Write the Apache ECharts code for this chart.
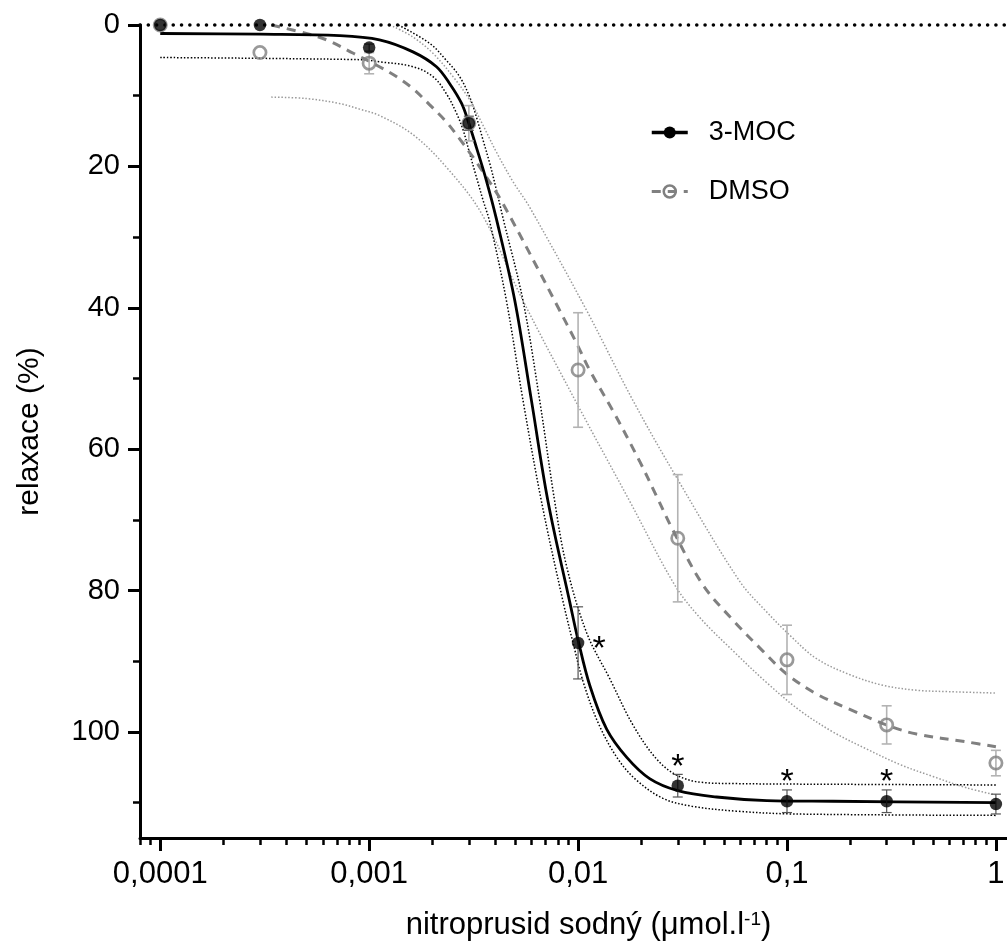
<!DOCTYPE html>
<html>
<head>
<meta charset="utf-8">
<script src="https://cdn.jsdelivr.net/npm/echarts@6/dist/echarts.min.js"></script>
<style>html,body{margin:0;padding:0;background:#fff}#c{width:1007px;height:945px}</style>
</head>
<body>
<div id="c"></div>
<script>
// ---- data ----
const CONC = [0.0001, 0.0003, 0.001, 0.003, 0.01, 0.03, 0.1, 0.3, 1];
const MOC_MEAN = [0, 0, 3.2, 13.9, 87.4, 107.6, 109.8, 109.8, 110.2];
const MOC_SEM = [0, 0, 0.5, 1.0, 5.1, 1.6, 1.6, 1.6, 1.4];
const DMSO_MEAN = [0, 3.9, 5.4, 13.9, 48.8, 72.6, 89.8, 99.0, 104.4];
const DMSO_SEM = [0, 0, 1.5, 2.5, 8.1, 9.0, 4.9, 2.7, 1.8];
const SIGNIFICANT = [0.01, 0.03, 0.1, 0.3];

const MOC_FIT = [[0.0001,1.2],[0.0003,1.3],[0.00072,1.5],[0.00112,2.1],[0.00162,3.8],[0.0021,5.9],[0.00243,8.3],[0.00277,11.1],[0.003,13.9],[0.00326,17.3],[0.00364,22.0],[0.00407,27.5],[0.00498,39.0],[0.00598,53.1],[0.00718,67.4],[0.00912,81.6],[0.01,87.0],[0.0114,93.5],[0.0137,99.6],[0.0171,103.6],[0.022,106.6],[0.03,108.3],[0.046,109.2],[0.08,109.7],[0.166,109.8],[1,110.0]];
const MOC_CI_HIGH = [[0.0001,4.6],[0.0009,4.9],[0.00112,5.2],[0.00162,5.9],[0.00202,7.3],[0.00234,9.7],[0.00262,12.5],[0.00282,14.9],[0.00303,18.2],[0.00326,21.5],[0.00351,24.8],[0.00378,27.9],[0.00454,39.0],[0.00545,53.1],[0.00668,67.4],[0.00848,81.6],[0.0095,87.6],[0.0106,93.0],[0.0126,99.0],[0.0155,103.8],[0.019,106.8],[0.0255,109.4],[0.035,110.5],[0.057,111.2],[0.108,111.6],[1,111.8]];
const MOC_CI_LOW = [[0.00138,0],[0.00195,2.6],[0.00234,5.0],[0.00271,7.3],[0.00303,10.2],[0.00326,13.0],[0.00351,16.3],[0.00378,19.6],[0.00407,23.4],[0.00438,27.4],[0.00545,39.0],[0.00655,53.1],[0.00773,67.4],[0.0088,76.5],[0.011,86.0],[0.0142,92.5],[0.0183,99.0],[0.0237,103.8],[0.0296,106.1],[0.0383,107.1],[0.0555,107.3],[0.166,107.4],[1,107.5]];

const DMSO_FIT = [[0.00034,0],[0.0005,1.2],[0.000625,2.1],[0.00084,4.0],[0.00112,5.9],[0.00135,7.3],[0.00162,9.0],[0.00195,11.3],[0.00234,13.7],[0.00271,16.1],[0.00314,18.7],[0.00364,21.5],[0.0043,24.9],[0.00656,35.0],[0.00788,39.5],[0.00983,45.0],[0.0114,48.9],[0.0147,54.6],[0.0197,61.7],[0.0237,66.6],[0.0285,71.5],[0.0396,79.2],[0.0552,84.2],[0.0769,88.6],[0.0995,91.8],[0.138,94.6],[0.2,96.8],[0.299,99.0],[0.417,100.3],[0.723,101.4],[1,102.1]];
const DMSO_CI_HIGH = [[0.00034,10.2],[0.0005,10.4],[0.00072,11.1],[0.0009,11.9],[0.00112,12.8],[0.00162,15.5],[0.00234,20.1],[0.00344,26.6],[0.00545,39.0],[0.0101,54.1],[0.0177,67.4],[0.029,79.2],[0.0382,83.8],[0.0555,88.6],[0.0798,93.0],[0.1145,96.9],[0.166,100.0],[0.24,102.4],[0.347,104.6],[0.5,106.3],[0.723,107.9],[1,108.9]];
const DMSO_CI_LOW = [[0.0013,0.2],[0.00162,1.7],[0.00202,4.0],[0.00252,7.3],[0.00303,10.6],[0.00351,14.2],[0.00407,18.0],[0.00489,22.2],[0.00587,25.8],[0.011,40.4],[0.0183,53.1],[0.0296,64.0],[0.0594,78.7],[0.0798,83.0],[0.103,86.3],[0.138,89.6],[0.2,91.9],[0.288,93.4],[0.417,94.1],[0.6,94.3],[1,94.5]];

const X_TICKS = [0.0001, 0.001, 0.01, 0.1, 1];
const X_TICK_LABELS = ['0,0001', '0,001', '0,01', '0,1', '1'];
const X_MINOR_TICKS = [0.00008,0.00009,0.0002,0.0003,0.0004,0.0005,0.0006,0.0007,0.0008,0.0009,0.002,0.003,0.004,0.005,0.006,0.007,0.008,0.009,0.02,0.03,0.04,0.05,0.06,0.07,0.08,0.09,0.2,0.3,0.4,0.5,0.6,0.7,0.8,0.9];
const Y_TICKS = [0, 20, 40, 60, 80, 100];
const Y_MINOR_TICKS = [10, 30, 50, 70, 90, 110];

// ---- chart ----
const FONT = 'Liberation Sans, Arial, Helvetica, sans-serif';
const chart = echarts.init(document.getElementById('c'), null, {renderer: 'canvas'});

function xLabel(v) {
  let best = 0, d = Infinity;
  X_TICKS.forEach((t, i) => { const dd = Math.abs(Math.log10(t) - Math.log10(v)); if (dd < d) { d = dd; best = i; } });
  return X_TICK_LABELS[best];
}

function errorBars(means, sems, color, width, capW, z) {
  return {
    type: 'custom', silent: true, z: z, clip: false,
    data: CONC.map((c, i) => [c, means[i], sems[i]]),
    encode: {x: 0, y: 1},
    renderItem: function (params, api) {
      const x = api.value(0), m = api.value(1), e = api.value(2);
      if (!e) return {type: 'group', children: []};
      const a = api.coord([x, m - e]), b = api.coord([x, m + e]);
      const h = capW / 2;
      const st = {stroke: color, lineWidth: width};
      return {type: 'group', children: [
        {type: 'line', shape: {x1: a[0], y1: a[1], x2: b[0], y2: b[1]}, style: st},
        {type: 'line', shape: {x1: a[0] - h, y1: a[1], x2: a[0] + h, y2: a[1]}, style: st},
        {type: 'line', shape: {x1: b[0] - h, y1: b[1], x2: b[0] + h, y2: b[1]}, style: st}
      ]};
    }
  };
}

function band(data, color) {
  return {type: 'line', data: data, smooth: 0.35, showSymbol: false, symbol: 'none', silent: true, z: 2,
    lineStyle: {color: color, width: 1.5, type: [1.5, 1.9]}};
}

const GRID = {left: 140, right: 0, top: 25, bottom: 107, containLabel: false, outerBoundsMode: 'none'};

const option = {
  animation: false,
  backgroundColor: '#fff',
  grid: [Object.assign({}, GRID), Object.assign({}, GRID)],
  legend: {
    data: [
      {name: '3-MOC', itemStyle: {color: '#000'}, lineStyle: {width: 3.5, color: '#000'}},
      {name: 'DMSO', itemStyle: {color: 'rgba(255,255,255,0)', borderColor: '#808080', borderWidth: 2.5}, lineStyle: {width: 3, color: '#808080'}}
    ],
    orient: 'vertical', left: 645, top: 114, itemWidth: 36, itemHeight: 15, itemGap: 32,
    selectedMode: false,
    textStyle: {fontSize: 27, color: '#000', fontFamily: FONT, padding: [0, 0, 0, 16]}
  },
  xAxis: [
    {
      gridIndex: 0, type: 'log', logBase: 10, min: 0.00008, max: 1.13, position: 'bottom',
      name: '{t|nitroprusid sodný (μmol.l}{s|-1}{t|)}',
      nameLocation: 'middle', nameGap: 72,
      nameTextStyle: {padding: [0, 0, 0, 30], rich: {
        t: {fontSize: 31, fontFamily: FONT, color: '#000'},
        s: {fontSize: 19, fontFamily: FONT, color: '#000', verticalAlign: 'top'}
      }},
      axisLine: {show: true, onZero: false, lineStyle: {color: '#000', width: 3}},
      axisTick: {show: true, length: 13, lineStyle: {color: '#000', width: 3}, customValues: X_TICKS},
      axisLabel: {show: true, customValues: X_TICKS, formatter: xLabel, fontSize: 31, fontFamily: FONT, color: '#000', margin: 21},
      splitLine: {show: false}, minorTick: {show: false}
    },
    {
      gridIndex: 1, type: 'log', logBase: 10, min: 0.00008, max: 1.13, position: 'bottom',
      axisLine: {show: false, onZero: false},
      axisTick: {show: true, length: 7, lineStyle: {color: '#000', width: 2.5}, customValues: X_MINOR_TICKS},
      axisLabel: {show: false}, splitLine: {show: false}
    }
  ],
  yAxis: [
    {
      gridIndex: 0, type: 'value', min: 0, max: 115, inverse: true, position: 'left',
      name: 'relaxace (%)', nameLocation: 'middle', nameGap: 95,
      nameTextStyle: {fontSize: 30, fontFamily: FONT, color: '#000'},
      axisLine: {show: true, onZero: false, lineStyle: {color: '#000', width: 3}},
      axisTick: {show: true, length: 12, lineStyle: {color: '#000', width: 3}, customValues: Y_TICKS},
      axisLabel: {show: true, customValues: Y_TICKS, fontSize: 29, fontFamily: FONT, color: '#000', margin: 20},
      splitLine: {show: false}
    },
    {
      gridIndex: 0, type: 'value', min: 0, max: 115, inverse: true, position: 'left',
      axisLine: {show: false, onZero: false},
      axisTick: {show: true, length: 7, lineStyle: {color: '#000', width: 2.5}, customValues: Y_MINOR_TICKS},
      axisLabel: {show: false}, splitLine: {show: false}
    },
    {
      gridIndex: 1, type: 'value', min: 0, max: 115, inverse: true, show: false, axisLine: {onZero: false}
    }
  ],
  series: [
    band(DMSO_CI_HIGH, '#9a9a9a'),
    band(DMSO_CI_LOW, '#9a9a9a'),
    band(MOC_CI_HIGH, '#000'),
    band(MOC_CI_LOW, '#000'),
    {
      name: 'DMSO', type: 'line', data: DMSO_FIT, smooth: 0.35, showSymbol: false, symbol: 'circle', silent: true, z: 3,
      lineStyle: {color: '#808080', width: 3, type: [9, 7]}, itemStyle: {color: '#808080'}
    },
    {
      name: '3-MOC', type: 'line', data: MOC_FIT, smooth: 0.35, showSymbol: false, symbol: 'circle', silent: true, z: 4,
      lineStyle: {color: '#000', width: 2.8}, itemStyle: {color: '#000'},
      markLine: {silent: true, symbol: 'none', label: {show: false}, animation: false,
        lineStyle: {color: '#000', width: 3.6, type: [0.01, 8.3], cap: 'round'},
        data: [{yAxis: 0}]}
    },
    errorBars(DMSO_MEAN, DMSO_SEM, '#b3b3b3', 1.6, 10, 5),
    errorBars(MOC_MEAN, MOC_SEM, '#555', 1.2, 10, 6),
    {
      type: 'scatter', name: 'DMSO points', data: CONC.map((c, i) => [c, DMSO_MEAN[i]]), symbol: 'circle', symbolSize: 12.3, z: 7, silent: true,
      itemStyle: {color: 'rgba(255,255,255,0)', borderColor: '#808080', borderWidth: 2.7}
    },
    {
      type: 'scatter', name: '3-MOC points', data: CONC.map((c, i) => [c, MOC_MEAN[i]]), symbol: 'circle', symbolSize: 12.5, z: 8, silent: true,
      itemStyle: {color: '#000'}
    },
    {
      type: 'custom', silent: true, z: 9, clip: false,
      data: SIGNIFICANT.map(c => { const i = CONC.indexOf(c); return [c, MOC_MEAN[i], MOC_SEM[i]]; }),
      encode: {x: 0, y: 1},
      renderItem: function (params, api) {
        const x = api.value(0), m = api.value(1), e = api.value(2);
        const beside = params.dataIndex === 0;
        const p = beside ? api.coord([x, m]) : api.coord([x, m - e]);
        return {type: 'text', x: beside ? p[0] + 21 : p[0], y: beside ? p[1] + 7 : p[1] - 7,
          style: {text: '*', fontSize: 34, fontFamily: FONT, fill: '#000', align: 'center', verticalAlign: 'middle'}};
      }
    }
  ]
};
chart.setOption(option);
</script>
</body>
</html>
